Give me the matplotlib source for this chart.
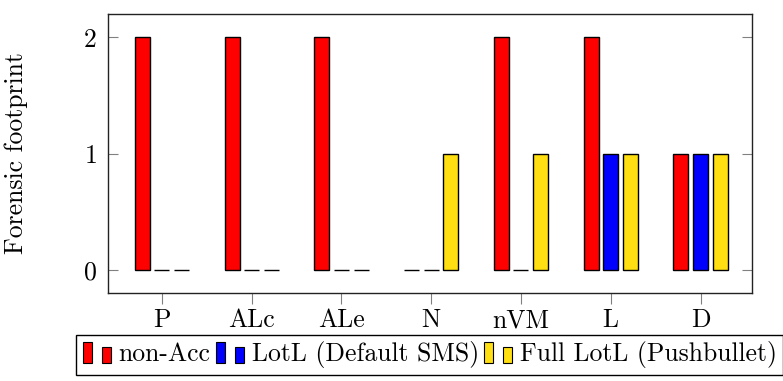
import matplotlib
matplotlib.use('Agg')
import matplotlib.pyplot as plt
from matplotlib.patches import Rectangle, Patch
from matplotlib.legend_handler import HandlerBase
import numpy as np

plt.rcParams['font.family'] = 'cmr10'
plt.rcParams['mathtext.fontset'] = 'cm'
plt.rcParams['axes.formatter.use_mathtext'] = True

# data
categories = ['P', 'ALc', 'ALe', 'N', 'nVM', 'L', 'D']
non_acc = [2, 2, 2, 0, 2, 2, 1]
lotl_sms = [0, 0, 0, 0, 0, 1, 1]
full_lotl = [0, 0, 0, 1, 1, 1, 1]
series_labels = ['non-Acc', 'LotL (Default SMS)', 'Full LotL (Pushbullet)']
series_colors = ['#ff0000', '#0000ff', '#ffdf12']


class TwoBars(HandlerBase):
    """legend handle like pgfplots ybar legend: two small bars"""
    def create_artists(self, legend, orig, xd, yd, w, h, fontsize, trans):
        bw = w * 0.32
        fc = orig.get_facecolor()
        r1 = Rectangle((xd, yd - 0.1 * h), bw, h * 1.15, facecolor=fc,
                       edgecolor='black', lw=0.8, transform=trans)
        r2 = Rectangle((xd + w - bw, yd - 0.1 * h), bw, h * 0.9, facecolor=fc,
                       edgecolor='black', lw=0.8, transform=trans)
        return [r1, r2]


fig = plt.figure(figsize=(7.83, 3.81), dpi=100)
ax = fig.add_axes([0.138, 0.231, 0.822, 0.732])

x = np.arange(len(categories))
width = 0.167
offset = 0.218
handles = []
for i, (vals, col, lab) in enumerate(zip([non_acc, lotl_sms, full_lotl],
                                         series_colors, series_labels)):
    ax.bar(x + (i - 1) * offset, vals, width, color=col, edgecolor='black',
           linewidth=1.0)
    handles.append(Patch(facecolor=col, edgecolor='black', label=lab))

fs = 18.5
ax.set_xlim(-0.6, 6.57)
ax.set_ylim(-0.2, 2.2)
ax.set_xticks(x)
ax.set_xticklabels(categories)
ax.set_yticks([0, 1, 2])
ax.tick_params(axis='y', direction='in', length=7, color='gray', width=0.8,
               right=True, labelsize=fs, pad=8)
ax.tick_params(axis='x', direction='out', length=8, color='gray', width=0.8,
               labelsize=fs, pad=3)
for s in ax.spines.values():
    s.set_linewidth(1.0)
    s.set_color('#222222')
ax.set_ylabel('Forensic footprint', fontsize=fs, labelpad=40)

ax.legend(handles=handles, loc='upper center', bbox_to_anchor=(0.5, -0.15),
          ncol=3, fontsize=fs, frameon=True, fancybox=False, edgecolor='black',
          framealpha=1, handler_map={Patch: TwoBars()}, handlelength=1.1,
          handletextpad=0.3, columnspacing=0.2, borderpad=0.25,
          borderaxespad=0)

fig.savefig('out.png', dpi=100)
